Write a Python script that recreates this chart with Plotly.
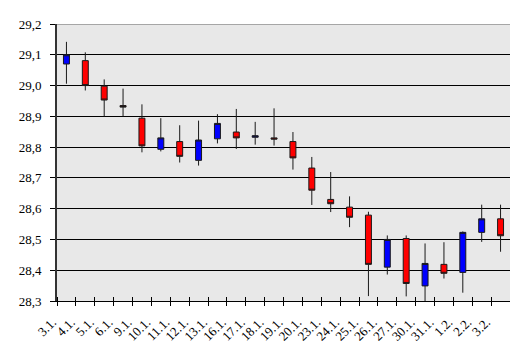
import plotly.graph_objects as go

# Trading days and daily OHLC quotes
dates = ["3.1.", "4.1.", "5.1.", "6.1.", "9.1.", "10.1.", "11.1.", "12.1.",
         "13.1.", "16.1.", "17.1.", "18.1.", "19.1.", "20.1.", "23.1.", "24.1.",
         "25.1.", "26.1.", "27.1.", "30.1.", "31.1.", "1.2.", "2.2.", "3.2."]
open_ = [29.070, 29.081, 28.998, 28.935, 28.894, 28.793, 28.818, 28.757,
         28.827, 28.849, 28.832, 28.830, 28.818, 28.732, 28.630, 28.605,
         28.579, 28.410, 28.503, 28.349, 28.419, 28.393, 28.523, 28.567]
close = [29.100, 29.000, 28.953, 28.930, 28.804, 28.830, 28.770, 28.823,
         28.877, 28.830, 28.837, 28.826, 28.765, 28.660, 28.616, 28.572,
         28.419, 28.500, 28.357, 28.422, 28.390, 28.523, 28.567, 28.512]
high = [29.142, 29.108, 29.020, 28.990, 28.939, 28.894, 28.871, 28.886,
        28.907, 28.924, 28.882, 28.926, 28.849, 28.768, 28.719, 28.640,
        28.590, 28.513, 28.513, 28.487, 28.491, 28.526, 28.613, 28.613]
low = [29.006, 28.984, 28.900, 28.900, 28.783, 28.786, 28.750, 28.740,
       28.812, 28.794, 28.808, 28.805, 28.727, 28.612, 28.589, 28.540,
       28.316, 28.386, 28.315, 28.300, 28.373, 28.327, 28.492, 28.460]

y_ticks = [28.3, 28.4, 28.5, 28.6, 28.7, 28.8, 28.9, 29.0, 29.1, 29.2]

xs = list(range(len(dates)))
bounds = [i - 0.5 for i in range(len(dates) + 1)]
x_range = [-0.5, len(dates) - 0.5]

FONT = dict(family="Liberation Serif, Times New Roman, Times, serif",
            size=13, color="black")

fig = go.Figure()
fig.add_trace(go.Candlestick(
    x=xs, open=open_, high=high, low=low, close=close,
    increasing=dict(fillcolor="#0000ff", line=dict(color="#1a1a1a", width=1)),
    decreasing=dict(fillcolor="#ff0000", line=dict(color="#1a1a1a", width=1)),
    whiskerwidth=0, showlegend=False,
))
# invisible companion trace that carries the date-label axis
fig.add_trace(go.Scatter(
    x=xs, y=close, xaxis="x2", mode="none", hoverinfo="skip", showlegend=False,
))

fig.update_layout(
    width=510, height=344,
    margin=dict(l=57, r=0, t=24, b=43),
    paper_bgcolor="white",
    plot_bgcolor="#e8e8e8",
    separators=", ",
    boxgap=0.55,
    font=FONT,
    xaxis=dict(
        range=x_range, rangeslider=dict(visible=False), automargin=False,
        tickmode="array", tickvals=bounds, showticklabels=False,
        ticks="outside", ticklen=4, tickcolor="black", tickwidth=1,
        minor=dict(tickmode="array", tickvals=bounds, ticks="inside",
                   ticklen=4, tickcolor="black", tickwidth=1, showgrid=False),
        showline=True, linecolor="black", linewidth=1,
        showgrid=False, zeroline=False,
    ),
    xaxis2=dict(
        overlaying="x", anchor="y", side="bottom", range=x_range,
        automargin=False,
        tickmode="array", tickvals=xs, ticktext=dates,
        tickangle=-45, ticks="", ticklabelstandoff=10, ticklabelshift=-14,
        tickfont=FONT, showline=False, showgrid=False, zeroline=False,
    ),
    yaxis=dict(
        range=[28.3, 29.2], tickmode="array", tickvals=y_ticks,
        automargin=False,
        tickformat=".1f", tickfont=FONT,
        ticks="outside", ticklen=5, tickcolor="black", tickwidth=1,
        ticklabelstandoff=6,
        showline=True, linecolor="#333333", linewidth=2,
        showgrid=True, gridcolor="black", gridwidth=1, zeroline=False,
    ),
    shapes=[dict(type="line", xref="paper", yref="y", x0=0, x1=1,
                 y0=29.2, y1=29.2, line=dict(color="#a6a6a6", width=2))],
)

fig.write_html("out.html")
